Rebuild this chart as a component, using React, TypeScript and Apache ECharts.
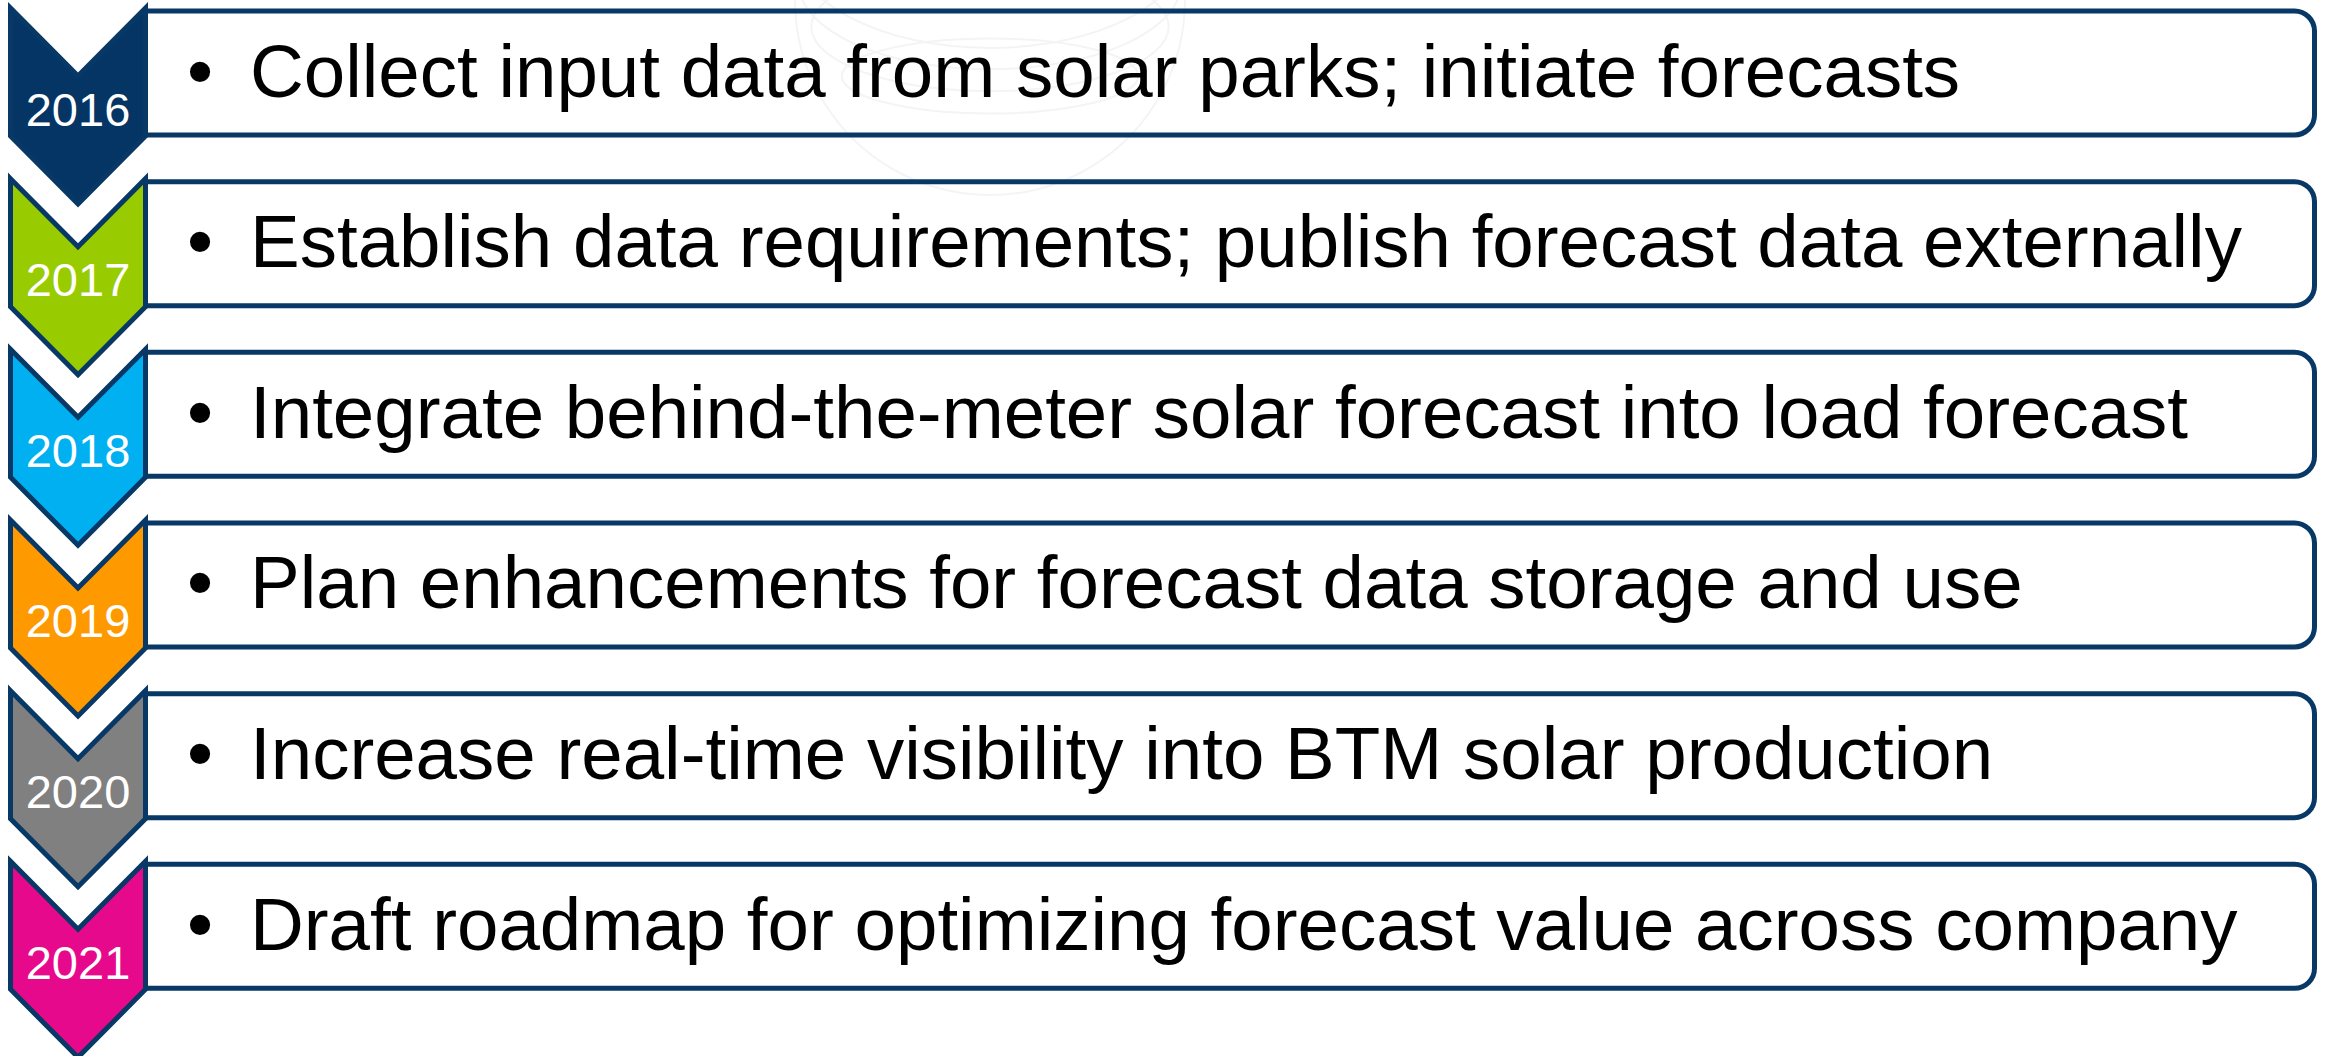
import React, { useEffect, useRef } from "react";
import * as echarts from "echarts";

const years = ["2016", "2017", "2018", "2019", "2020", "2021"];
const items = [
  "Collect input data from solar parks; initiate forecasts",
  "Establish data requirements; publish forecast data externally",
  "Integrate behind-the-meter solar forecast into load forecast",
  "Plan enhancements for forecast data storage and use",
  "Increase real-time visibility into BTM solar production",
  "Draft roadmap for optimizing forecast value across company",
];
const fills = ["#043565", "#99CC00", "#00B0F0", "#FF9900", "#808080", "#E6098B"];

const NAVY = "#073866";

export default function App() {
  const ref = useRef<HTMLDivElement>(null);
  useEffect(() => {
    document.body.style.margin = "0";
    const chart = echarts.init(ref.current!, null, { renderer: "svg" });
    const rowStep = 170.66;
    const boxTop0 = 11;
    const boxH = 124;
    const boxRight = 2314.5;
    const cxL = 10.5, cxR = 145.5, cxM = 78;

    const elements: any[] = [];

    // faint watermark globe
    const gx = 990, gy = 0, gr = 195;
    elements.push({
      type: "circle", z: 0, silent: true,
      shape: { cx: gx, cy: gy, r: gr },
      style: { fill: "none", stroke: "#f4f4f4", lineWidth: 2 },
    });
    [0.35, 0.6, 0.8, 0.93].forEach((k, i) => {
      elements.push({
        type: "ellipse", z: 0, silent: true,
        shape: { cx: gx, cy: gy + gr * (1 - k) * 0.6 - 20 * i, rx: gr * Math.sqrt(1 - (1 - k) * (1 - k)), ry: gr * k * 0.55 },
        style: { fill: "none", stroke: "#f4f4f4", lineWidth: 2 },
      });
    });

    years.forEach((yr, i) => {
      const bt = boxTop0 + i * rowStep;
      const bc = bt + boxH / 2;
      elements.push({
        type: "rect", z: 1,
        shape: { x: cxR, y: bt, width: boxRight - cxR, height: boxH, r: [0, 20, 20, 0] },
        style: { fill: "none", stroke: NAVY, lineWidth: 5 },
      });
      const y0 = bt - 3;
      elements.push({
        type: "polygon", z: 2,
        shape: {
          points: [
            [cxL, y0], [cxM, y0 + 68], [cxR, y0], [cxR, y0 + 128],
            [cxM, y0 + 196], [cxL, y0 + 128],
          ],
        },
        style: { fill: fills[i], stroke: NAVY, lineWidth: 5, lineJoin: "miter" },
      });
      elements.push({
        type: "text", z: 3,
        x: cxM, y: y0 + 101,
        style: {
          text: yr, fill: "#ffffff", font: "47px 'Liberation Sans', Arial, sans-serif",
          textAlign: "center", textVerticalAlign: "middle",
        },
      });
      elements.push({
        type: "text", z: 3,
        x: 200, y: bc - 2,
        style: {
          text: "•", fill: "#000000", font: "74.5px 'Liberation Sans', Arial, sans-serif",
          textAlign: "center", textVerticalAlign: "middle",
        },
      });
      elements.push({
        type: "text", z: 3,
        x: 250, y: bc - 2,
        style: {
          text: items[i], fill: "#000000", font: "74.5px 'Liberation Sans', Arial, sans-serif",
          textAlign: "left", textVerticalAlign: "middle",
        },
      });
    });

    chart.setOption({
      animation: false,
      backgroundColor: "#ffffff",
      graphic: { elements },
    });
    return () => chart.dispose();
  }, []);
  return <div ref={ref} style={{ width: 2325, height: 1056 }} />;
}
